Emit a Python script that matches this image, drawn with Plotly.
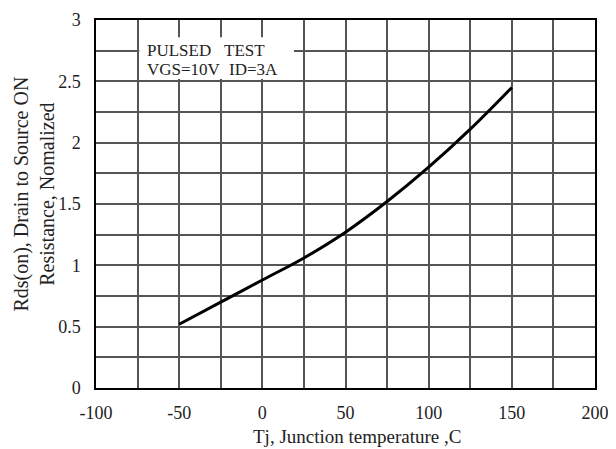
import plotly.graph_objects as go

# Data
tj = [-50, -25, 0, 25, 50, 75, 100, 125, 150]
rds_norm = [0.52, 0.70, 0.88, 1.06, 1.27, 1.52, 1.80, 2.11, 2.45]

x_ticks = [-100, -50, 0, 50, 100, 150, 200]
x_ticktext = ["-100", "-50", "0", "50", "100", "150", "200"]
y_ticks = [0, 0.5, 1, 1.5, 2, 2.5, 3]
y_ticktext = ["0", "0.5", "1", "1.5", "2", "2.5", "3"]

note_line1 = ["PULSED", "TEST"]
note_line2 = ["VGS=10V", "ID=3A"]

FONT = "Liberation Serif, Times New Roman, serif"
GRID = "#555555"
TXT = "#222222"

fig = go.Figure()
fig.add_trace(go.Scatter(
    x=tj, y=rds_norm, mode="lines",
    line=dict(color="black", width=3, shape="spline"),
    showlegend=False, hoverinfo="skip",
))

# White box behind the test-condition note
fig.add_shape(type="rect", x0=-74, x1=19, y0=2.52, y1=2.86,
              xref="x", yref="y", fillcolor="white", line=dict(width=0),
              layer="above")

for txt, xx in zip(note_line1, [-70.5, -24.5]):
    fig.add_annotation(x=xx, y=2.75, xref="x", yref="y", text=txt,
                       showarrow=False, xanchor="left", yanchor="middle",
                       font=dict(family=FONT, size=17, color=TXT))
for txt, xx in zip(note_line2, [-70.5, -21.4]):
    fig.add_annotation(x=xx, y=2.60, xref="x", yref="y", text=txt,
                       showarrow=False, xanchor="left", yanchor="middle",
                       font=dict(family=FONT, size=17, color=TXT))

# Axis titles as annotations
fig.add_annotation(x=-0.1232, y=0.527, xref="paper", yref="paper",
                   text="Rds(on), Drain to Source ON<br>Resistance, Nomalized",
                   textangle=-90, showarrow=False, xanchor="center", yanchor="middle",
                   font=dict(family=FONT, size=20, color=TXT))
fig.add_annotation(x=0.524, y=-0.133, xref="paper", yref="paper",
                   text="Tj, Junction temperature ,C",
                   showarrow=False, xanchor="center", yanchor="middle",
                   font=dict(family=FONT, size=19, color=TXT))

fig.update_xaxes(
    range=[-100, 200], tickvals=x_ticks, ticktext=x_ticktext, ticks="",
    showgrid=True, gridcolor=GRID, gridwidth=1.5,
    minor=dict(dtick=25, tick0=0, showgrid=True, gridcolor=GRID, gridwidth=1.5),
    showline=True, linecolor="black", linewidth=1.5, mirror=True,
    zeroline=False, automargin=False, ticklabelstandoff=8,
    tickfont=dict(family=FONT, size=18, color=TXT),
)
fig.update_yaxes(
    range=[0, 3], tickvals=y_ticks, ticktext=y_ticktext, ticks="",
    showgrid=True, gridcolor=GRID, gridwidth=1.5,
    minor=dict(dtick=0.25, tick0=0, showgrid=True, gridcolor=GRID, gridwidth=1.5),
    showline=True, linecolor="black", linewidth=1.5, mirror=True,
    zeroline=False, automargin=False, ticklabelstandoff=10,
    tickfont=dict(family=FONT, size=18, color=TXT),
)

# The page body adds an 8px offset, so the figure is 8px smaller each way
fig.update_layout(
    width=608, height=441,
    margin=dict(l=88, r=21, t=12, b=61, autoexpand=False),
    paper_bgcolor="white", plot_bgcolor="white",
)

fig.write_html("out.html")
